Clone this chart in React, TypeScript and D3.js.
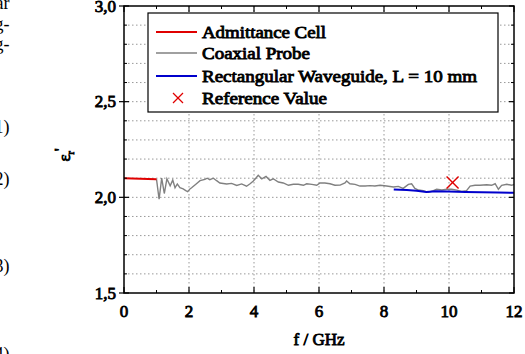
import React from "react";
import * as d3 from "d3";

const admittanceF = [0, 1.0];
const admittanceV = [2.1, 2.094];

const coaxF = [1.0, 1.08, 1.16, 1.24, 1.32, 1.42, 1.5, 1.57, 1.64, 1.72, 1.82, 1.9, 1.96, 2.03, 2.08, 2.22, 2.34, 2.49, 2.56, 2.64, 2.75, 2.85, 2.95, 3.16, 3.31, 3.47, 3.62, 3.77, 3.88, 3.98, 4.13, 4.24, 4.37, 4.49, 4.59, 4.75, 4.9, 5.06, 5.21, 5.36, 5.52, 5.62, 5.78, 5.93, 6.03, 6.18, 6.34, 6.49, 6.65, 6.8, 6.85, 6.95, 7.11, 7.26, 7.42, 7.57, 7.72, 7.88, 8.08, 8.29, 8.44, 8.59, 8.75, 8.85, 8.95, 9.06, 9.21, 9.36, 9.52, 9.62, 9.78, 9.93, 10.08, 10.24, 10.39, 10.54, 10.65, 10.8, 10.95, 11.16, 11.31, 11.42, 11.52, 11.62, 11.78, 11.93, 12.0];
const coaxV = [2.095, 1.99, 2.1, 2.02, 2.097, 2.06, 2.09, 2.05, 2.07, 2.05, 2.044, 2.035, 2.03, 2.044, 2.05, 2.07, 2.087, 2.094, 2.1, 2.092, 2.1, 2.087, 2.075, 2.07, 2.073, 2.062, 2.07, 2.058, 2.071, 2.085, 2.115, 2.097, 2.109, 2.089, 2.097, 2.08, 2.075, 2.063, 2.068, 2.068, 2.063, 2.071, 2.068, 2.063, 2.075, 2.075, 2.071, 2.063, 2.064, 2.075, 2.085, 2.071, 2.068, 2.059, 2.059, 2.061, 2.059, 2.063, 2.059, 2.054, 2.057, 2.047, 2.068, 2.071, 2.047, 2.038, 2.035, 2.026, 2.035, 2.042, 2.038, 2.042, 2.042, 2.038, 2.031, 2.035, 2.059, 2.063, 2.063, 2.066, 2.063, 2.071, 2.042, 2.063, 2.068, 2.063, 2.068];

const waveguideF = [8.3, 8.7, 9.0, 9.3, 9.6, 10.0, 10.5, 11.0, 11.5, 12.0];
const waveguideV = [2.041, 2.038, 2.035, 2.028, 2.032, 2.03, 2.028, 2.026, 2.025, 2.024];

const refF = [10.11];
const refV = [2.077];

const xTicks = [0, 2, 4, 6, 8, 10, 12];
const yTicks = [1.5, 2.0, 2.5, 3.0];
const yTickLabels = ["1,5", "2,0", "2,5", "3,0"];
const legendLabels = ["Admittance Cell", "Coaxial Probe", "Rectangular Waveguide, L = 10 mm", "Reference Value"];
const sideFragments = ["ar", "g-", "g-", "1)", "2)", "3)", "4)"];
const sideFragmentY = [9, 30, 50, 133, 185, 272, 360];

const W = 525;
const H = 354;
const L = 124, R = 514, T = 6, B = 293;
const FONT = "'Liberation Serif', 'Times New Roman', serif";

// faux-bold serif (regular glyphs with a thin outline)
const bold = { fontFamily: FONT, stroke: "#000", strokeWidth: 0.85, paintOrder: "stroke" as const, fill: "#000" };

export default function App() {
  const x = d3.scaleLinear().domain([0, 12]).range([L, R]);
  const y = d3.scaleLinear().domain([1.5, 3.0]).range([B, T]);
  const line = d3.line<[number, number]>().x((d) => x(d[0])).y((d) => y(d[1]));
  const zip = (a: number[], b: number[]) => a.map((v, i) => [v, b[i]] as [number, number]);

  const minorY = d3.range(16, 30).map((v) => v / 10);
  const minorX = d3.range(1, 12);
  const gridX = [2, 4, 6, 8, 10];
  const gridY = d3.range(16, 30).map((v) => v / 10);

  const legX = 148, legY = 13, legW = 350, legH = 99;
  const rowY = [32, 53, 76, 98];
  const colors = ["#e00000", "#808080", "#0000cc"];
  const widths = [2, 1.3, 2];
  const legendLens = [124, 108, 275, 125];

  return (
    <svg width={W} height={H} style={{ position: "absolute", left: 0, top: 0, background: "#fff" }} fontFamily={FONT}>
      <rect x={0} y={0} width={W} height={H} fill="#fff" />
      {sideFragments.map((t, i) => (
        <text key={i} x={9.5} y={sideFragmentY[i]} textAnchor="end" fontSize={18} fill="#000">{t}</text>
      ))}
      {/* grid */}
      {gridX.map((v) => (
        <line key={"gx" + v} x1={x(v)} x2={x(v)} y1={T} y2={B} stroke="#999" strokeWidth={1} strokeDasharray="1.5,2.5" />
      ))}
      {gridY.map((v) => (
        <line key={"gy" + v} x1={L} x2={R} y1={y(v)} y2={y(v)} stroke="#999" strokeWidth={1} strokeDasharray="1.5,2.5" />
      ))}
      {/* data */}
      <path d={line(zip(coaxF, coaxV)) || ""} fill="none" stroke={colors[1]} strokeWidth={1.4} />
      <path d={line(zip(waveguideF, waveguideV)) || ""} fill="none" stroke={colors[2]} strokeWidth={2} />
      <path d={line(zip(admittanceF, admittanceV)) || ""} fill="none" stroke={colors[0]} strokeWidth={2} />
      {refF.map((f, i) => (
        <g key={"ref" + i} stroke="#e00000" strokeWidth={1.4}>
          <line x1={x(f) - 6} x2={x(f) + 6} y1={y(refV[i]) - 6} y2={y(refV[i]) + 6} />
          <line x1={x(f) - 6} x2={x(f) + 6} y1={y(refV[i]) + 6} y2={y(refV[i]) - 6} />
        </g>
      ))}
      {/* frame */}
      <rect x={L} y={T} width={R - L} height={B - T} fill="none" stroke="#000" strokeWidth={1.5} />
      {/* x ticks */}
      {xTicks.map((v) => (
        <g key={"xt" + v}>
          <line x1={x(v)} x2={x(v)} y1={B} y2={B - 6} stroke="#000" strokeWidth={1.2} />
          <line x1={x(v)} x2={x(v)} y1={T} y2={T + 6} stroke="#000" strokeWidth={1.2} />
          <text x={x(v)} y={317} textAnchor="middle" fontSize={17} {...bold}>{v}</text>
        </g>
      ))}
      {minorX.filter((v) => v % 2 === 1).map((v) => (
        <g key={"xm" + v}>
          <line x1={x(v)} x2={x(v)} y1={B} y2={B - 3} stroke="#000" strokeWidth={1} />
          <line x1={x(v)} x2={x(v)} y1={T} y2={T + 3} stroke="#000" strokeWidth={1} />
        </g>
      ))}
      {/* y ticks */}
      {yTicks.map((v, i) => (
        <g key={"yt" + v}>
          <line x1={L - 5} x2={L + 5} y1={y(v)} y2={y(v)} stroke="#000" strokeWidth={1.2} />
          <line x1={R - 5} x2={R} y1={y(v)} y2={y(v)} stroke="#000" strokeWidth={1.2} />
          <text x={L - 8} y={y(v) + 5.5} textAnchor="end" fontSize={17} {...bold}>{yTickLabels[i]}</text>
        </g>
      ))}
      {minorY.filter((v) => Math.abs(v * 2 - Math.round(v * 2)) > 1e-6).map((v) => (
        <g key={"ym" + v}>
          <line x1={L} x2={L + 3} y1={y(v)} y2={y(v)} stroke="#000" strokeWidth={1} />
          <line x1={R - 3} x2={R} y1={y(v)} y2={y(v)} stroke="#000" strokeWidth={1} />
        </g>
      ))}
      {/* axis titles */}
      <text x={319} y={345} textAnchor="middle" fontSize={17} {...bold}>f / GHz</text>
      <g transform="translate(70,155) rotate(-90)">
        <text x={0} y={0} textAnchor="middle" fontSize={17} {...bold}>
          ε<tspan fontSize={10} dy={4}>r</tspan><tspan dy={-9} fontSize={14}>'</tspan>
        </text>
      </g>
      {/* legend */}
      <rect x={legX} y={legY} width={legW} height={legH} fill="#fff" stroke="#000" strokeWidth={1.2} />
      {legendLabels.map((lab, i) => (
        <g key={"lg" + i}>
          {i < 3 ? (
            <line x1={156} x2={197} y1={rowY[i]} y2={rowY[i]} stroke={colors[i]} strokeWidth={widths[i]} />
          ) : (
            <g stroke="#e00000" strokeWidth={1.3}>
              <line x1={173} x2={183} y1={rowY[i] - 5} y2={rowY[i] + 5} />
              <line x1={173} x2={183} y1={rowY[i] + 5} y2={rowY[i] - 5} />
            </g>
          )}
          <text x={202} y={rowY[i] + 5.5} fontSize={17} {...bold} textLength={legendLens[i]} lengthAdjust="spacingAndGlyphs">{lab}</text>
        </g>
      ))}
    </svg>
  );
}
